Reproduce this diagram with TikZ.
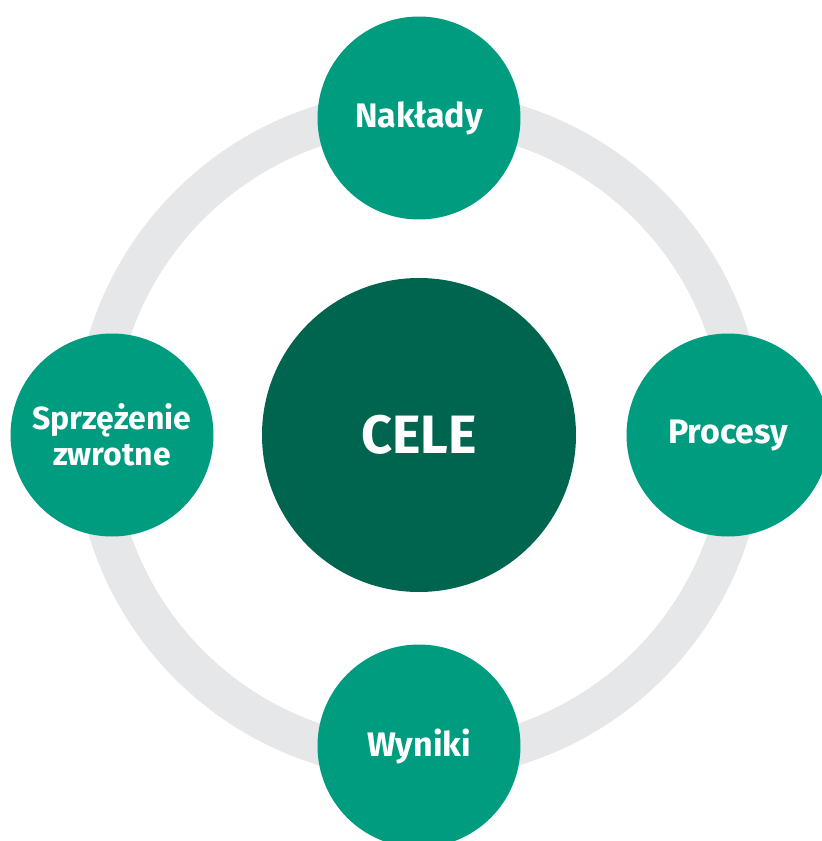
\documentclass[tikz,border=0pt]{standalone}
\usepackage{fontspec}
\setmainfont{Fira Sans}
\usepackage{tikz}

\definecolor{ringgray}{HTML}{E6E7E8}
\definecolor{stepgreen}{HTML}{009C80}
\definecolor{coregreen}{HTML}{00654F}

\tikzset{
  phase/.style={circle, minimum size=203pt, inner sep=0pt, fill=stepgreen,
    text=white, font=\bfseries\fontsize{34}{36}\selectfont, align=center},
  core/.style={circle, minimum size=314pt, inner sep=0pt, fill=coregreen,
    text=white, font=\bfseries\fontsize{54}{60}\selectfont}
}

\begin{document}
\begin{tikzpicture}[x=1pt, y=1pt]

\useasboundingbox (-419,-406) rectangle (403,435);

% grey loop behind the four phases
\draw[ringgray, line width=40pt] (0,0) circle (325);

% the goal in the middle
\node (cele) at (0,0) [core] {CELE};

% four phases around the loop
\node (naklady)  at (0, 317)   [phase] {Nakłady};
\node (procesy)  at (309, 0)   [phase] {Procesy};
\node (wyniki)   at (0, -311)  [phase] {Wyniki};
\node (feedback) at (-307, 0)  [phase, font=\bfseries\fontsize{32}{36}\selectfont] {Sprzężenie\\zwrotne};

\end{tikzpicture}
\end{document}
